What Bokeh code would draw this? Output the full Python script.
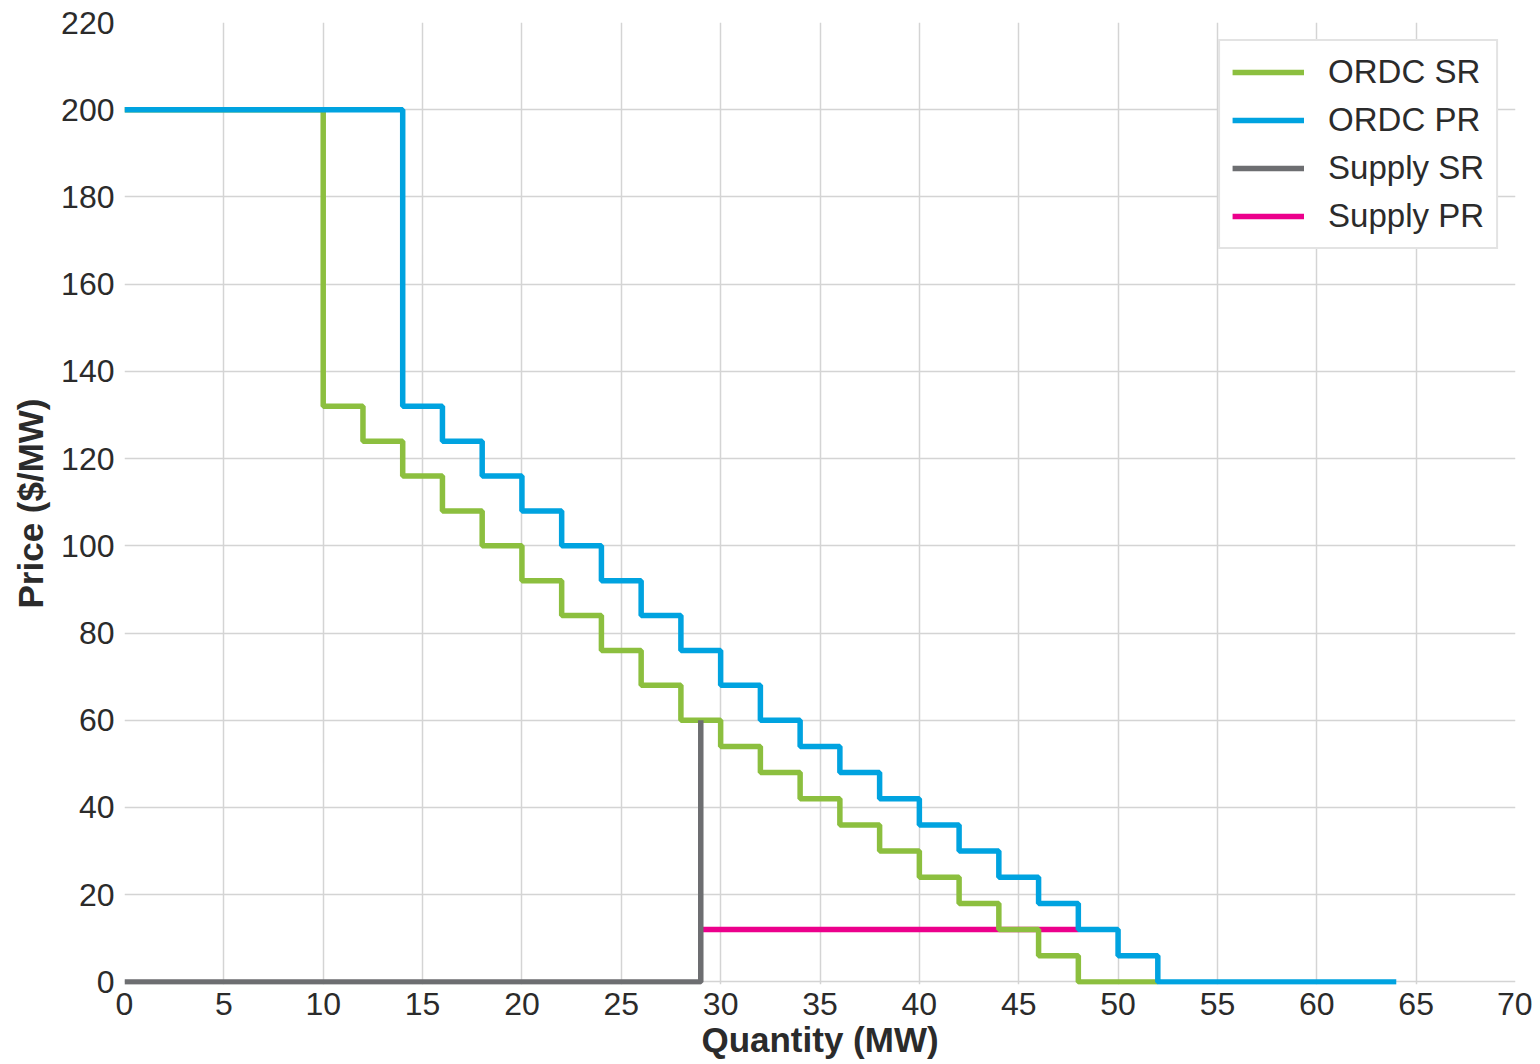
from bokeh.plotting import figure
from bokeh.models import Range1d, Legend, LegendItem, FixedTicker
from bokeh.embed import file_html
from bokeh.resources import INLINE

# ORDC SR (step "after": price holds from each quantity to the next)
sr_q = [0, 10, 12, 14, 16, 18, 20, 22, 24, 26, 28, 30, 32, 34, 36, 38, 40, 42, 44, 46, 48, 52]
sr_p = [200, 132, 124, 116, 108, 100, 92, 84, 76, 68, 60, 54, 48, 42, 36, 30, 24, 18, 12, 6, 0, 0]

# ORDC PR
pr_q = [0, 14, 16, 18, 20, 22, 24, 26, 28, 30, 32, 34, 36, 38, 40, 42, 44, 46, 48, 50, 52, 64]
pr_p = [200, 132, 124, 116, 108, 100, 92, 84, 76, 68, 60, 54, 48, 42, 36, 30, 24, 18, 12, 6, 0, 0]

# Supply SR
ssr_q = [0, 29, 29]
ssr_p = [0, 0, 60]

# Supply PR
spr_q = [29, 48]
spr_p = [12, 12]

x_ticks = list(range(0, 75, 5))
y_ticks = list(range(0, 240, 20))

GREEN = "#8CBF3F"
BLUE = "#00A3E0"
GRAY = "#6D6E71"
PINK = "#EC008C"
FONT = "Liberation Sans"

p = figure(width=1532, height=1062, output_backend="svg", toolbar_location=None,
           x_range=Range1d(0, 70), y_range=Range1d(-0.6, 220),
           min_border_left=124, min_border_right=17, min_border_top=22, min_border_bottom=78)

p.outline_line_color = None
p.background_fill_color = "white"
p.border_fill_color = "white"

for ax in (p.xaxis[0], p.yaxis[0]):
    ax.axis_line_color = None
    ax.major_tick_line_color = None
    ax.minor_tick_line_color = None
    ax.major_label_text_font = FONT
    ax.major_label_text_font_size = "32px"
    ax.major_label_text_color = "#2b2b2b"
    ax.axis_label_text_font = FONT
    ax.axis_label_text_font_size = "35px"
    ax.axis_label_text_font_style = "bold"
    ax.axis_label_text_color = "#2b2b2b"

p.xaxis.ticker = FixedTicker(ticks=x_ticks)
p.yaxis.ticker = FixedTicker(ticks=y_ticks)
p.xaxis.major_label_standoff = 2
p.yaxis.major_label_standoff = 4
p.xaxis.axis_label = "Quantity (MW)"
p.yaxis.axis_label = "Price ($/MW)"
p.xaxis.axis_label_standoff = 2
p.yaxis.axis_label_standoff = 8

p.xgrid.ticker = FixedTicker(ticks=x_ticks)
p.ygrid.ticker = FixedTicker(ticks=y_ticks)
for g in (p.xgrid[0], p.ygrid[0]):
    g.grid_line_color = "#d4d4d4"
    g.grid_line_width = 1.5

r_spr = p.line(spr_q, spr_p, line_color=PINK, line_width=5.5)
r_sr = p.step(sr_q, sr_p, mode="after", line_color=GREEN, line_width=5.5)
r_pr = p.step(pr_q, pr_p, mode="after", line_color=BLUE, line_width=5.5)
r_ssr = p.line(ssr_q, ssr_p, line_color=GRAY, line_width=5.5)

legend = Legend(items=[
    LegendItem(label="ORDC SR", renderers=[r_sr]),
    LegendItem(label="ORDC PR", renderers=[r_pr]),
    LegendItem(label="Supply SR", renderers=[r_ssr]),
    LegendItem(label="Supply PR", renderers=[r_spr]),
], location="top_right")
legend.margin = 17
legend.padding = 12
legend.spacing = 10
legend.glyph_width = 72
legend.glyph_height = 36
legend.label_standoff = 24
legend.label_text_font = FONT
legend.label_text_font_size = "33px"
legend.label_text_color = "#2b2b2b"
legend.border_line_color = "#c8c8c8"
legend.border_line_width = 2
legend.background_fill_alpha = 1.0
p.add_layout(legend)

open("out.html", "w").write(file_html(p, INLINE))
